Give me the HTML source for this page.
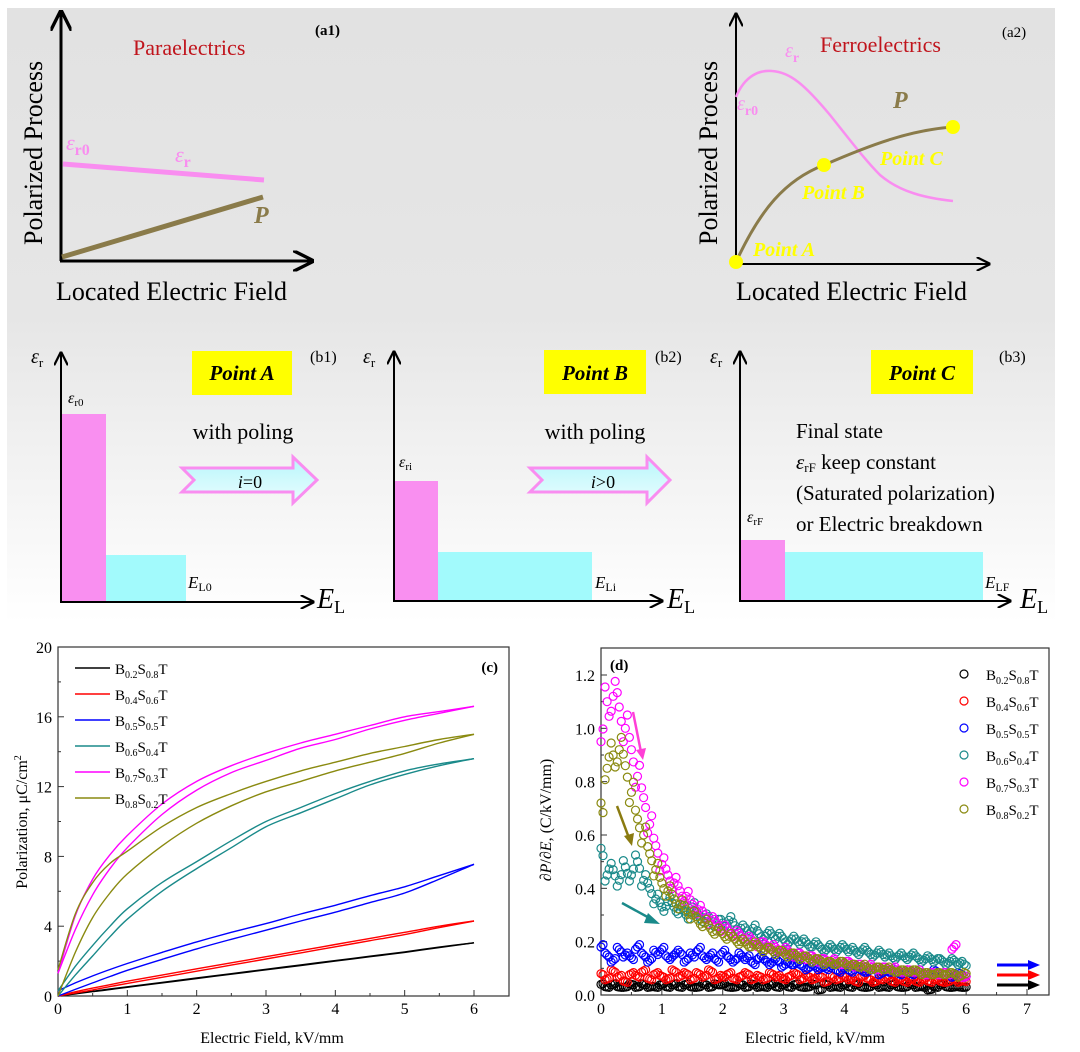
<!DOCTYPE html>
<html><head><meta charset="utf-8"><style>
html,body{margin:0;padding:0;background:#fff;}
svg{display:block;font-family:"Liberation Serif","Times New Roman",serif;}
</style></head><body>
<svg id="fig" width="1080" height="1052" viewBox="0 0 1080 1052" xmlns="http://www.w3.org/2000/svg">
<defs>
<linearGradient id="bg" x1="0" y1="0" x2="0" y2="1">
<stop offset="0" stop-color="#e2e2e2"/><stop offset="0.5" stop-color="#e6e6e6"/><stop offset="1" stop-color="#ffffff"/>
</linearGradient>
<linearGradient id="arrowfill" x1="0" y1="0" x2="0" y2="1">
<stop offset="0" stop-color="#b8f6fb"/><stop offset="1" stop-color="#e8fdfe"/>
</linearGradient>
<marker id="ah" viewBox="0 0 10 10" refX="9" refY="5" markerWidth="7" markerHeight="7" orient="auto"><path d="M0,0 L10,5 L0,10" fill="none" stroke="#000" stroke-width="1.6"/></marker>
</defs>
<rect x="7" y="8" width="1048" height="615" fill="url(#bg)"/>

<g>
<line x1="61" y1="261" x2="61" y2="12" stroke="#000" stroke-width="3" marker-end="url(#ah)"/>
<line x1="60" y1="261" x2="312" y2="261" stroke="#000" stroke-width="3" marker-end="url(#ah)"/>
<line x1="63" y1="164" x2="264" y2="180" stroke="#f98df0" stroke-width="5"/>
<line x1="62" y1="257" x2="263" y2="197" stroke="#8a7b4a" stroke-width="5"/>
<text x="133" y="55" font-size="22" fill="#c0141c">Paraelectrics</text>
<text x="315" y="35" font-size="15" font-weight="bold">(a1)</text>
<text x="66" y="150" font-size="22" font-style="italic" fill="#f98df0">ε<tspan font-size="16" font-style="normal" font-weight="bold" dy="5">r0</tspan></text>
<text x="175" y="162" font-size="22" font-style="italic" fill="#f98df0">ε<tspan font-size="16" font-style="normal" font-weight="bold" dy="5">r</tspan></text>
<text x="254" y="223" font-size="24" font-style="italic" font-weight="bold" fill="#8a7b4a">P</text>
<text transform="translate(42,245) rotate(-90)" font-size="26">Polarized Process</text>
<text x="56" y="300" font-size="26">Located Electric Field</text>
</g>

<g>
<line x1="736" y1="264" x2="736" y2="14" stroke="#000" stroke-width="2" marker-end="url(#ah)"/>
<line x1="735" y1="264" x2="989" y2="264" stroke="#000" stroke-width="2" marker-end="url(#ah)"/>
<path d="M736,97 C745,75 760,70 772,71 C790,72 805,85 830,115 C850,140 865,160 880,175 C900,192 925,198 953,201" fill="none" stroke="#f98df0" stroke-width="2.5"/>
<path d="M736,262 C760,210 785,180 824,165 C870,145 910,130 953,127" fill="none" stroke="#8a7b4a" stroke-width="3"/>
<circle cx="736" cy="262" r="7" fill="#ffff00"/><circle cx="824" cy="165" r="7" fill="#ffff00"/><circle cx="953" cy="127" r="7" fill="#ffff00"/>
<text x="820" y="52" font-size="22" fill="#c0141c">Ferroelectrics</text>
<text x="1002" y="37" font-size="15">(a2)</text>
<text x="785" y="57" font-size="20" font-style="italic" fill="#f98df0">ε<tspan font-size="14" font-weight="bold" font-style="normal" dy="5">r</tspan></text>
<text x="737" y="110" font-size="20" font-style="italic" fill="#f98df0">ε<tspan font-size="14" font-weight="bold" font-style="normal" dy="5">r0</tspan></text>
<text x="893" y="108" font-size="24" font-style="italic" font-weight="bold" fill="#8a7b4a">P</text>
<text x="880" y="165" font-size="20" font-style="italic" font-weight="bold" fill="#ffff00">Point C</text>
<text x="802" y="199" font-size="20" font-style="italic" font-weight="bold" fill="#ffff00">Point B</text>
<text x="753" y="256" font-size="20" font-style="italic" font-weight="bold" fill="#ffff00">Point A</text>
<text transform="translate(717,245) rotate(-90)" font-size="26">Polarized Process</text>
<text x="736" y="300" font-size="26">Located Electric Field</text>
</g>

<g>
<rect x="62" y="414" width="44" height="187" fill="#f98ff0"/>
<rect x="106" y="555" width="80" height="46" fill="#a2fafc"/>
<line x1="61" y1="602" x2="61" y2="353" stroke="#000" stroke-width="2" marker-end="url(#ah)"/>
<line x1="60" y1="602" x2="313" y2="602" stroke="#000" stroke-width="2" marker-end="url(#ah)"/>
<text x="31" y="363" font-size="20" font-style="italic">ε<tspan font-size="13" font-style="normal" dy="4">r</tspan></text>
<text x="68" y="403" font-size="16" font-style="italic">ε<tspan font-size="11" font-style="normal" dy="3">r0</tspan></text>
<text x="188" y="588" font-size="17" font-style="italic">E<tspan font-size="12" font-style="normal" dy="3">L0</tspan></text>
<text x="317" y="608" font-size="28" font-style="italic">E<tspan font-size="18" font-style="normal" dy="5">L</tspan></text>
<rect x="192" y="351" width="100" height="44" fill="#ffff00"/>
<text x="242" y="380" font-size="21" font-style="italic" font-weight="bold" text-anchor="middle">Point A</text>
<text x="310" y="362" font-size="16">(b1)</text>
<text x="243" y="439" font-size="22" text-anchor="middle">with poling</text>
<path d="M182,468 L293,468 L293,457 L317,480 L293,503 L293,492 L182,492 L194,480 Z" fill="url(#arrowfill)" stroke="#f98df0" stroke-width="3"/>
<text x="250" y="488" font-size="18" text-anchor="middle"><tspan font-style="italic">i</tspan>=0</text>
</g>
<g>
<rect x="395" y="481" width="43" height="120" fill="#f98ff0"/>
<rect x="438" y="552" width="154" height="49" fill="#a2fafc"/>
<line x1="394" y1="601" x2="394" y2="352" stroke="#000" stroke-width="2" marker-end="url(#ah)"/>
<line x1="393" y1="601" x2="662" y2="601" stroke="#000" stroke-width="2" marker-end="url(#ah)"/>
<text x="363" y="363" font-size="20" font-style="italic">ε<tspan font-size="13" font-style="normal" dy="4">r</tspan></text>
<text x="399" y="467" font-size="16" font-style="italic">ε<tspan font-size="11" font-style="normal" dy="3">ri</tspan></text>
<text x="595" y="588" font-size="17" font-style="italic">E<tspan font-size="12" font-style="normal" dy="3">Li</tspan></text>
<text x="667" y="608" font-size="28" font-style="italic">E<tspan font-size="18" font-style="normal" dy="5">L</tspan></text>
<rect x="544" y="350" width="102" height="44" fill="#ffff00"/>
<text x="595" y="380" font-size="21" font-style="italic" font-weight="bold" text-anchor="middle">Point B</text>
<text x="655" y="362" font-size="16">(b2)</text>
<text x="595" y="439" font-size="22" text-anchor="middle">with poling</text>
<path d="M530,468 L647,468 L647,457 L670,480 L647,503 L647,492 L530,492 L542,480 Z" fill="url(#arrowfill)" stroke="#f98df0" stroke-width="3"/>
<text x="603" y="488" font-size="18" text-anchor="middle"><tspan font-style="italic">i</tspan>&gt;0</text>
</g>
<g>
<rect x="741" y="540" width="44" height="61" fill="#f98ff0"/>
<rect x="785" y="552" width="198" height="49" fill="#a2fafc"/>
<line x1="740" y1="601" x2="740" y2="352" stroke="#000" stroke-width="2" marker-end="url(#ah)"/>
<line x1="739" y1="601" x2="1010" y2="601" stroke="#000" stroke-width="2" marker-end="url(#ah)"/>
<text x="710" y="363" font-size="20" font-style="italic">ε<tspan font-size="13" font-style="normal" dy="4">r</tspan></text>
<text x="747" y="522" font-size="16" font-style="italic">ε<tspan font-size="11" font-style="normal" dy="3">rF</tspan></text>
<text x="985" y="588" font-size="17" font-style="italic">E<tspan font-size="12" font-style="normal" dy="3">LF</tspan></text>
<text x="1020" y="608" font-size="28" font-style="italic">E<tspan font-size="18" font-style="normal" dy="5">L</tspan></text>
<rect x="871" y="350" width="102" height="44" fill="#ffff00"/>
<text x="922" y="380" font-size="21" font-style="italic" font-weight="bold" text-anchor="middle">Point C</text>
<text x="999" y="362" font-size="16">(b3)</text>
<g font-size="21">
<text x="796" y="438">Final state</text>
<text x="796" y="469"><tspan font-style="italic">ε</tspan><tspan font-size="13" dy="3">rF</tspan><tspan dy="-3"> keep constant</tspan></text>
<text x="796" y="500">(Saturated polarization)</text>
<text x="796" y="531">or Electric breakdown</text>
</g>
</g>

<g id="chartC">
<rect x="58" y="647" width="451" height="349" fill="none" stroke="#333" stroke-width="1.2"/>
<text x="498" y="672" font-size="15" font-weight="bold" text-anchor="end">(c)</text>
<text transform="translate(27,822) rotate(-90)" font-size="16" text-anchor="middle">Polarization, μC/cm<tspan font-size="10" dy="-6">2</tspan></text>
<text x="272" y="1043" font-size="16" text-anchor="middle">Electric Field, kV/mm</text>
</g>

<g id="chartD">
<rect x="601" y="648" width="448" height="347" fill="none" stroke="#333" stroke-width="1.2"/>
<text x="610" y="670" font-size="15" font-weight="bold">(d)</text>
<text transform="translate(551,820) rotate(-90)" font-size="16" text-anchor="middle">∂<tspan font-style="italic">P</tspan>/∂<tspan font-style="italic">E</tspan>, (C/kV/mm)</text>
<text x="815" y="1043" font-size="16" text-anchor="middle">Electric field, kV/mm</text>
</g>
<g>
<line x1="633" y1="712" x2="641" y2="752" stroke="#ff3fd6" stroke-width="2.5"/>
<path d="M636,750 L643,760 L646,748 Z" fill="#ff3fd6"/>
<line x1="617" y1="806" x2="629" y2="838" stroke="#8a7b10" stroke-width="2.5"/>
<path d="M624,836 L632,846 L634,833 Z" fill="#8a7b10"/>
<line x1="622" y1="903" x2="653" y2="920" stroke="#1a8a8a" stroke-width="2.5"/>
<path d="M648,913 L660,924 L644,923 Z" fill="#1a8a8a"/>
</g>
</svg>
<script>
const NS='http://www.w3.org/2000/svg';
const cX=[0,0.25,0.5,0.75,1,1.5,2,2.5,3,3.5,4,4.5,5,5.5,6];
const cXTicks=[0,1,2,3,4,5,6];
const cYTicks=[0,4,8,12,16,20];
const cLegendSub=[['0.2','0.8'],['0.4','0.6'],['0.5','0.5'],['0.6','0.4'],['0.7','0.3'],['0.8','0.2']];
const cColors=['#000000','#ff0000','#0000ff','#1a8a8a','#ff00ff','#8a8a10'];
const blackUp=[0,0.12,0.25,0.37,0.5,0.75,1.0,1.25,1.5,1.75,2.0,2.25,2.5,2.78,3.05];
const blackDn=[0,0.14,0.27,0.4,0.53,0.78,1.03,1.28,1.53,1.78,2.03,2.28,2.53,2.8,3.05];
const redUp=[0,0.17,0.35,0.54,0.72,1.07,1.42,1.77,2.12,2.47,2.82,3.17,3.52,3.92,4.3];
const redDn=[0,0.24,0.45,0.65,0.85,1.2,1.56,1.9,2.25,2.6,2.95,3.3,3.65,4.0,4.3];
const blueUp=[0,0.38,0.75,1.12,1.47,2.1,2.7,3.25,3.77,4.3,4.8,5.35,5.9,6.7,7.55];
const blueDn=[0.3,0.75,1.15,1.52,1.86,2.5,3.1,3.65,4.15,4.7,5.2,5.75,6.26,6.9,7.55];
const tealUp=[0,1.2,2.3,3.4,4.4,6.0,7.3,8.5,9.7,10.5,11.3,12.1,12.7,13.2,13.6];
const tealDn=[0.3,1.7,2.9,4.0,5.0,6.5,7.7,8.9,10.0,10.8,11.6,12.3,12.9,13.3,13.6];
const magUp=[1.3,3.8,5.8,7.3,8.5,10.4,11.8,12.8,13.5,14.2,14.7,15.3,15.8,16.2,16.6];
const magDn=[1.3,4.6,6.7,8.1,9.2,11.0,12.3,13.2,13.9,14.5,15.0,15.5,16.0,16.3,16.6];
const oliveUp=[0,2.5,4.5,5.9,7.0,8.6,9.9,10.9,11.7,12.3,12.9,13.4,13.9,14.5,15.0];
const oliveDn=[1.5,4.7,6.5,7.6,8.3,9.7,10.8,11.6,12.3,12.9,13.4,13.9,14.3,14.7,15.0];
const cSeries=[[blackUp,blackDn],[redUp,redDn],[blueUp,blueDn],[tealUp,tealDn],[magUp,magDn],[oliveUp,oliveDn]];
const dXTicks=[0,1,2,3,4,5,6,7];
const dYTicks=[0,0.2,0.4,0.6,0.8,1.0,1.2];
const dStep=0.1;
const blackD=[0.04,0.03,0.04,0.03,0.03,0.04,0.03,0.04,0.03,0.03,0.04,0.03,0.04,0.03,0.04,0.03,0.03,0.04,0.03,0.04,0.04,0.03,0.03,0.04,0.03,0.04,0.03,0.03,0.04,0.03,0.04,0.03,0.04,0.03,0.03,0.04,0.02,0.04,0.03,0.03,0.04,0.03,0.04,0.03,0.03,0.04,0.03,0.03,0.04,0.03,0.03,0.04,0.03,0.03,0.02,0.03,0.04,0.03,0.03,0.03,0.03];
const redD=[0.08,0.06,0.09,0.07,0.05,0.08,0.07,0.09,0.06,0.08,0.07,0.06,0.09,0.07,0.08,0.06,0.08,0.07,0.09,0.06,0.07,0.08,0.06,0.07,0.08,0.06,0.07,0.06,0.08,0.07,0.06,0.07,0.08,0.06,0.07,0.06,0.07,0.05,0.07,0.06,0.07,0.06,0.05,0.07,0.06,0.05,0.06,0.07,0.05,0.06,0.05,0.06,0.05,0.06,0.05,0.06,0.05,0.05,0.06,0.05,0.05];
const blueD=[0.18,0.15,0.13,0.17,0.15,0.14,0.18,0.15,0.13,0.16,0.17,0.14,0.15,0.16,0.13,0.15,0.17,0.14,0.15,0.13,0.16,0.14,0.13,0.15,0.14,0.12,0.14,0.13,0.12,0.13,0.11,0.12,0.12,0.11,0.1,0.11,0.1,0.1,0.11,0.09,0.1,0.09,0.1,0.09,0.09,0.1,0.08,0.09,0.09,0.08,0.09,0.08,0.09,0.08,0.08,0.09,0.08,0.08,0.07,0.08,0.07];
const tealD=[0.55,0.45,0.47,0.43,0.48,0.45,0.5,0.43,0.4,0.36,0.33,0.35,0.33,0.32,0.3,0.33,0.3,0.29,0.28,0.27,0.27,0.28,0.26,0.25,0.24,0.25,0.23,0.22,0.23,0.22,0.21,0.2,0.21,0.2,0.19,0.19,0.18,0.17,0.18,0.17,0.18,0.17,0.16,0.17,0.16,0.15,0.16,0.15,0.14,0.15,0.14,0.15,0.14,0.13,0.14,0.13,0.13,0.12,0.13,0.12,0.11];
const magD=[0.95,1.1,1.12,1.08,1.0,0.92,0.82,0.74,0.64,0.56,0.49,0.45,0.42,0.39,0.37,0.34,0.32,0.3,0.28,0.27,0.25,0.24,0.23,0.22,0.21,0.2,0.19,0.19,0.18,0.17,0.17,0.16,0.15,0.15,0.14,0.14,0.13,0.13,0.13,0.12,0.12,0.12,0.11,0.11,0.11,0.1,0.1,0.1,0.1,0.09,0.09,0.09,0.09,0.08,0.08,0.08,0.08,0.08,0.18,0.07,0.07];
const oliveD=[0.72,0.85,0.9,0.92,0.86,0.76,0.66,0.6,0.53,0.47,0.42,0.39,0.36,0.34,0.32,0.3,0.28,0.27,0.25,0.24,0.23,0.22,0.21,0.2,0.19,0.19,0.18,0.17,0.17,0.16,0.16,0.15,0.15,0.14,0.14,0.13,0.13,0.12,0.12,0.12,0.12,0.11,0.11,0.11,0.1,0.1,0.1,0.1,0.09,0.09,0.09,0.09,0.09,0.08,0.08,0.08,0.08,0.08,0.08,0.07,0.08];
const dSeries=[blackD,redD,blueD,tealD,magD,oliveD];
// marker rendering spread (visual density only)
const dSpread=[[-0.033,0.05],[0,0],[0.033,-0.05]];

function mk(tag,attrs,parent){const e=document.createElementNS(NS,tag);for(const k in attrs)e.setAttribute(k,attrs[k]);parent.appendChild(e);return e;}
function smooth(pts){let d='M'+pts[0][0].toFixed(1)+','+pts[0][1].toFixed(1);
  for(let i=0;i<pts.length-1;i++){const p0=pts[Math.max(i-1,0)],p1=pts[i],p2=pts[i+1],p3=pts[Math.min(i+2,pts.length-1)];
    const c1=[p1[0]+(p2[0]-p0[0])/6,p1[1]+(p2[1]-p0[1])/6],c2=[p2[0]-(p3[0]-p1[0])/6,p2[1]-(p3[1]-p1[1])/6];
    d+=' C'+c1[0].toFixed(1)+','+c1[1].toFixed(1)+' '+c2[0].toFixed(1)+','+c2[1].toFixed(1)+' '+p2[0].toFixed(1)+','+p2[1].toFixed(1);}
  return d;}
const gC=document.getElementById('chartC');
const cx=v=>58+v*(474-58)/6, cy=v=>996-v*(996-647)/20;
cXTicks.forEach(t=>{
  const l=mk('line',{x1:cx(t),x2:cx(t),y1:996,y2:990,stroke:'#333','stroke-width':1},gC);
  
  
  if(t<6)mk('line',{x1:cx(t+0.5),x2:cx(t+0.5),y1:996,y2:993,stroke:'#333'},gC);
  const tx=mk('text',{x:cx(t),y:1014,'font-size':16,'text-anchor':'middle'},gC);tx.textContent=t;
  
  
});
cYTicks.forEach(t=>{
  mk('line',{x1:58,x2:64,y1:cy(t),y2:cy(t),stroke:'#333'},gC);
  if(t<20)mk('line',{x1:58,x2:61,y1:cy(t+2),y2:cy(t+2),stroke:'#333'},gC);
  const tx=mk('text',{x:52,y:cy(t)+6,'font-size':16,'text-anchor':'end'},gC);tx.textContent=t;
  
  
});
cSeries.forEach((pair,i)=>{
  pair.forEach(arr=>{
    const p=mk('path',{d:smooth(arr.map((v,j)=>[cx(cX[j]),cy(v)])),fill:'none',stroke:cColors[i],'stroke-width':1.4},gC);
    
    
  });
  const ly=668+i*26;
  mk('line',{x1:75,x2:110,y1:ly,y2:ly,stroke:cColors[i],'stroke-width':1.4},gC);
  const t=mk('text',{x:115,y:ly+6,'font-size':15},gC);
  t.innerHTML='B<tspan font-size="10" dy="4">'+cLegendSub[i][0]+'</tspan><tspan dy="-4">S</tspan><tspan font-size="10" dy="4">'+cLegendSub[i][1]+'</tspan><tspan dy="-4">T</tspan>';
  
  
});
const gD=document.getElementById('chartD');
const dx=v=>601+v*(1027-601)/7, dy=v=>995-v*(995-675)/1.2;
dXTicks.forEach(t=>{
  mk('line',{x1:dx(t),x2:dx(t),y1:995,y2:989,stroke:'#333'},gD);
  if(t<7)mk('line',{x1:dx(t+0.5),x2:dx(t+0.5),y1:995,y2:992,stroke:'#333'},gD);
  const tx=mk('text',{x:dx(t),y:1014,'font-size':16,'text-anchor':'middle'},gD);tx.textContent=t;
  
  
});
dYTicks.forEach(t=>{
  mk('line',{x1:601,x2:607,y1:dy(t),y2:dy(t),stroke:'#333'},gD);
  if(t<1.2)mk('line',{x1:601,x2:604,y1:dy(t+0.1),y2:dy(t+0.1),stroke:'#333'},gD);
  const tx=mk('text',{x:595,y:dy(t)+6,'font-size':16,'text-anchor':'end'},gD);tx.textContent=t.toFixed(1);
  
  
});
dSeries.forEach((arr,i)=>{
  arr.forEach((v,j)=>{
    dSpread.forEach((s,k)=>{
      const xv=j*dStep+s[0];
      if(xv<0||xv>6)return;
      const c=mk('circle',{cx:dx(xv),cy:dy(v*(1+s[1]*((j+k+i)%2?1:-1))),r:4,fill:'none',stroke:cColors[i],'stroke-width':1.2},gD);
      
      
    });
  });
  const ly=674+i*27;
  mk('circle',{cx:964,cy:ly,r:4,fill:'none',stroke:cColors[i],'stroke-width':1.2},gD);
  const t=mk('text',{x:986,y:ly+6,'font-size':15},gD);
  t.innerHTML='B<tspan font-size="10" dy="4">'+cLegendSub[i][0]+'</tspan><tspan dy="-4">S</tspan><tspan font-size="10" dy="4">'+cLegendSub[i][1]+'</tspan><tspan dy="-4">T</tspan>';
  
  
});
[['#0000ff',965],['#ff0000',975],['#000000',985]].forEach(a=>{
  const l=mk('line',{x1:997,x2:1030,y1:a[1],y2:a[1],stroke:a[0],'stroke-width':3},gD);
  
  
  mk('path',{d:'M1028,'+(a[1]-5)+' L1040,'+a[1]+' L1028,'+(a[1]+5)+' Z',fill:a[0]},gD);
});
</script>
</body></html>
